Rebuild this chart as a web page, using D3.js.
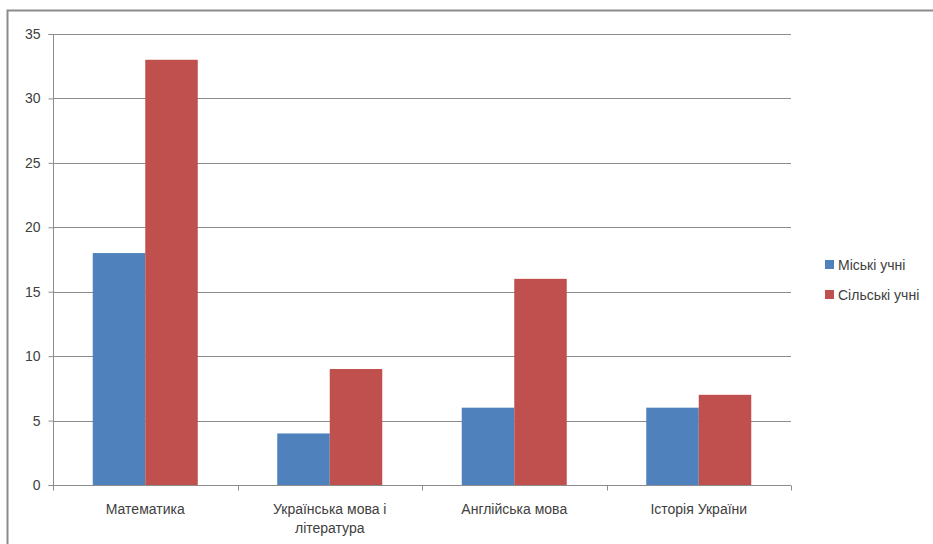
<!DOCTYPE html>
<html>
<head>
<meta charset="utf-8">
<script src="https://cdn.jsdelivr.net/npm/d3@7"></script>
<style>
  body { margin: 0; background: #fff; }
  svg text { font-family: "Liberation Sans Narrow", "Liberation Sans", Arial, sans-serif; fill: #404040; }
</style>
</head>
<body>
<svg width="933" height="544"></svg>
<script>
// предмети та дві серії
var categories = [["Математика"], ["Українська мова і", "література"], ["Англійська мова"], ["Історія України"]];
var series = ["Міські учні", "Сільські учні"];
var miski = [18, 4, 6, 6];
var silski = [33, 9, 16, 7];
var yTicks = [0, 5, 10, 15, 20, 25, 30, 35];
var colors = ["#4f81bd", "#c0504d"];

var svg = d3.select("svg");

// рамка діаграми (права і нижня частини за межами кадру)
svg.append("path")
    .attr("d", "M7.5,560 V10.5 H950")
    .attr("fill", "none")
    .attr("stroke", "#8c8c8c")
    .attr("stroke-width", 2);

var pLeft = 53, pRight = 791, pTop = 34, pBottom = 485;

var x = d3.scaleBand()
    .domain(d3.range(categories.length))
    .range([pLeft, pRight]);

var xInner = d3.scaleBand()
    .domain(d3.range(series.length))
    .range([0, x.bandwidth()])
    .paddingOuter(0.757)
    .paddingInner(0);

var y = d3.scaleLinear()
    .domain([0, 35])
    .range([pBottom, pTop]);

// лінії сітки
svg.append("g")
    .selectAll("line")
    .data(yTicks.slice(1))
    .enter()
    .append("line")
    .attr("x1", pLeft)
    .attr("x2", pRight)
    .attr("y1", function (d) { return Math.round(y(d)) + 0.5; })
    .attr("y2", function (d) { return Math.round(y(d)) + 0.5; })
    .attr("stroke", "#8c8c8c")
    .attr("stroke-width", 1);

// стовпчики
var data = [];
for (var i = 0; i < categories.length; i++) {
    data.push({ c: i, s: 0, v: miski[i] });
    data.push({ c: i, s: 1, v: silski[i] });
}
svg.append("g")
    .selectAll("rect")
    .data(data)
    .enter()
    .append("rect")
    .attr("x", function (d) { return x(d.c) + xInner(d.s); })
    .attr("width", xInner.bandwidth())
    .attr("y", function (d) { return y(d.v); })
    .attr("height", function (d) { return y(0) - y(d.v); })
    .attr("fill", function (d) { return colors[d.s]; });

// вісь Y
var yAxis = d3.axisLeft(y).tickValues(yTicks).tickSize(5).tickPadding(8);
var gy = svg.append("g")
    .attr("transform", "translate(" + (pLeft + 0.5) + ",0)")
    .call(yAxis);
gy.select(".domain").attr("stroke", "#8c8c8c").attr("d", "M-5," + (pTop + 0.5) + "H0V" + (pBottom + 0.5) + "H-5");
gy.selectAll(".tick line").attr("stroke", "#8c8c8c");
gy.selectAll(".tick text").style("font-size", "14px").attr("fill", "#404040");

// вісь X
var gx = svg.append("g")
    .attr("transform", "translate(0," + (pBottom + 0.5) + ")");
gx.append("line")
    .attr("x1", pLeft)
    .attr("x2", pRight)
    .attr("stroke", "#8c8c8c");
gx.selectAll(".tk")
    .data(d3.range(categories.length + 1))
    .enter()
    .append("line")
    .attr("class", "tk")
    .attr("x1", function (d) { return Math.round(pLeft + d * x.step()) + 0.5; })
    .attr("x2", function (d) { return Math.round(pLeft + d * x.step()) + 0.5; })
    .attr("y1", 0)
    .attr("y2", 5)
    .attr("stroke", "#8c8c8c");
var lbl = gx.selectAll(".lbl")
    .data(categories)
    .enter()
    .append("text")
    .attr("class", "lbl")
    .attr("text-anchor", "middle")
    .style("font-size", "14px")
    .attr("transform", function (d, i) { return "translate(" + (x(i) + x.bandwidth() / 2) + ",28)"; });
lbl.selectAll("tspan")
    .data(function (d) { return d; })
    .enter()
    .append("tspan")
    .attr("x", 0)
    .attr("dy", function (d, i) { return i === 0 ? 0 : 19; })
    .text(function (d) { return d; });

// легенда
var legend = svg.append("g")
    .selectAll("g")
    .data(series)
    .enter()
    .append("g")
    .attr("transform", function (d, i) { return "translate(825," + (260 + i * 30) + ")"; });
legend.append("rect")
    .attr("width", 9)
    .attr("height", 9)
    .attr("fill", function (d, i) { return colors[i]; });
legend.append("text")
    .attr("x", 13)
    .attr("y", 10)
    .style("font-size", "14px")
    .text(function (d) { return d; });
</script>
</body>
</html>
